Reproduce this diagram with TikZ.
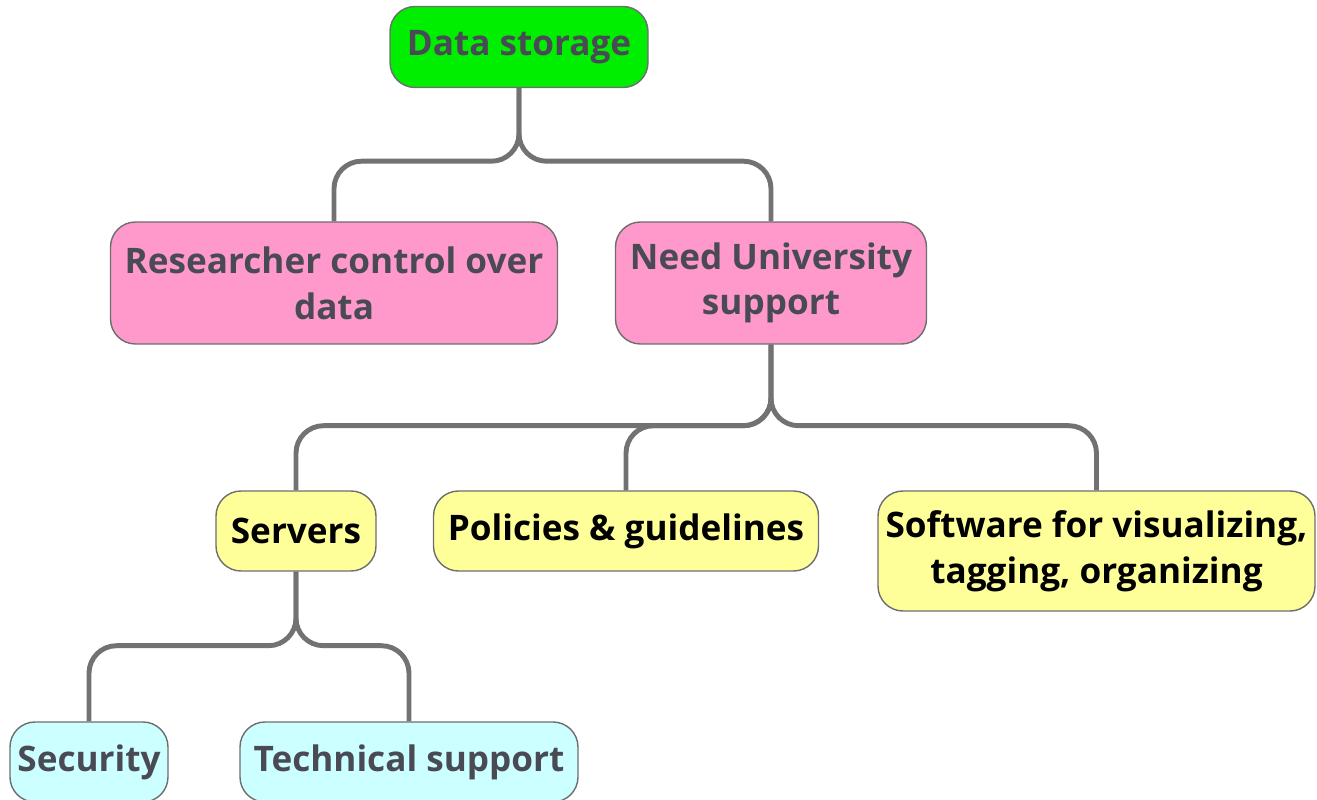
\documentclass[tikz,border=0pt]{standalone}
\usepackage{fontspec}
\setmainfont{Open Sans}
\usepackage{xcolor}
\usepackage{tikz}
\usetikzlibrary{positioning}

\definecolor{topgreen}{HTML}{00EE00}
\definecolor{midpink}{HTML}{FF99CC}
\definecolor{lowyellow}{HTML}{FFFF99}
\definecolor{leafcyan}{HTML}{CCFFFF}
\definecolor{boxline}{HTML}{6E6E6E}
\definecolor{textgray}{HTML}{4A4A55}
\definecolor{linkgray}{HTML}{727272}

\tikzset{
	topic/.style = {draw = boxline, line width = 0.8pt, rounded corners = 0.5cm, align = center,
		font = \fontsize{20}{26}\selectfont\bfseries},
	link/.style = {draw = linkgray, line width = 2.8pt, rounded corners = 0.55cm}
}

\begin{document}
\begin{tikzpicture} [on grid]
		% Frame : keeps the page the size of the reference
		\useasboundingbox (0,0) rectangle (26.34,-16);

		% Root Node : Every other node is measured based to this one
		\node (ds) [topic, fill = topgreen, text = textgray, minimum width = 5.16cm, minimum height = 1.62cm]
		at (10.38,-0.94) {Data storage};

		% Second Level
		\node (rc) [topic, fill = midpink, text = textgray, minimum width = 8.94cm, minimum height = 2.44cm,
		below left = 4.72cm and 3.70cm of ds] {Researcher control over\\data};
		\node (nu) [topic, fill = midpink, text = textgray, minimum width = 6.22cm, minimum height = 2.44cm,
		below right = 4.72cm and 5.04cm of ds] {Need University\\support};

		% Third Level
		\node (sv) [topic, fill = lowyellow, text = black, minimum width = 3.20cm, minimum height = 1.60cm,
		below left = 4.96cm and 9.50cm of nu] {Servers};
		\node (pg) [topic, fill = lowyellow, text = black, minimum width = 7.70cm, minimum height = 1.60cm,
		below left = 4.96cm and 2.90cm of nu] {Policies \& guidelines};
		\node (sw) [topic, fill = lowyellow, text = black, minimum width = 8.74cm, minimum height = 2.40cm,
		below right = 5.36cm and 6.51cm of nu] {Software for visualizing,\\tagging, organizing};

		% Leaves
		\node (se) [topic, fill = leafcyan, text = textgray, minimum width = 3.16cm, minimum height = 1.60cm,
		below left = 4.62cm and 4.14cm of sv] {Security};
		\node (ts) [topic, fill = leafcyan, text = textgray, minimum width = 6.76cm, minimum height = 1.60cm,
		below right = 4.62cm and 2.26cm of sv] {Technical support};

		% Draw Connections
		\draw [link] (ds.south) -- ++(0,-1.46) -| (rc.north);
		\draw [link] (ds.south) -- ++(0,-1.46) -| (nu.north);

		\draw [link] (nu.south) -- ++(0,-1.62) -| (sv.north);
		\draw [link] (nu.south) -- ++(0,-1.62) -| (pg.north);
		\draw [link] (nu.south) -- ++(0,-1.62) -| (sw.north);

		\draw [link] (sv.south) -- ++(0,-1.48) -| (se.north);
		\draw [link] (sv.south) -- ++(0,-1.48) -| (ts.north);
	\end{tikzpicture}
\end{document}
